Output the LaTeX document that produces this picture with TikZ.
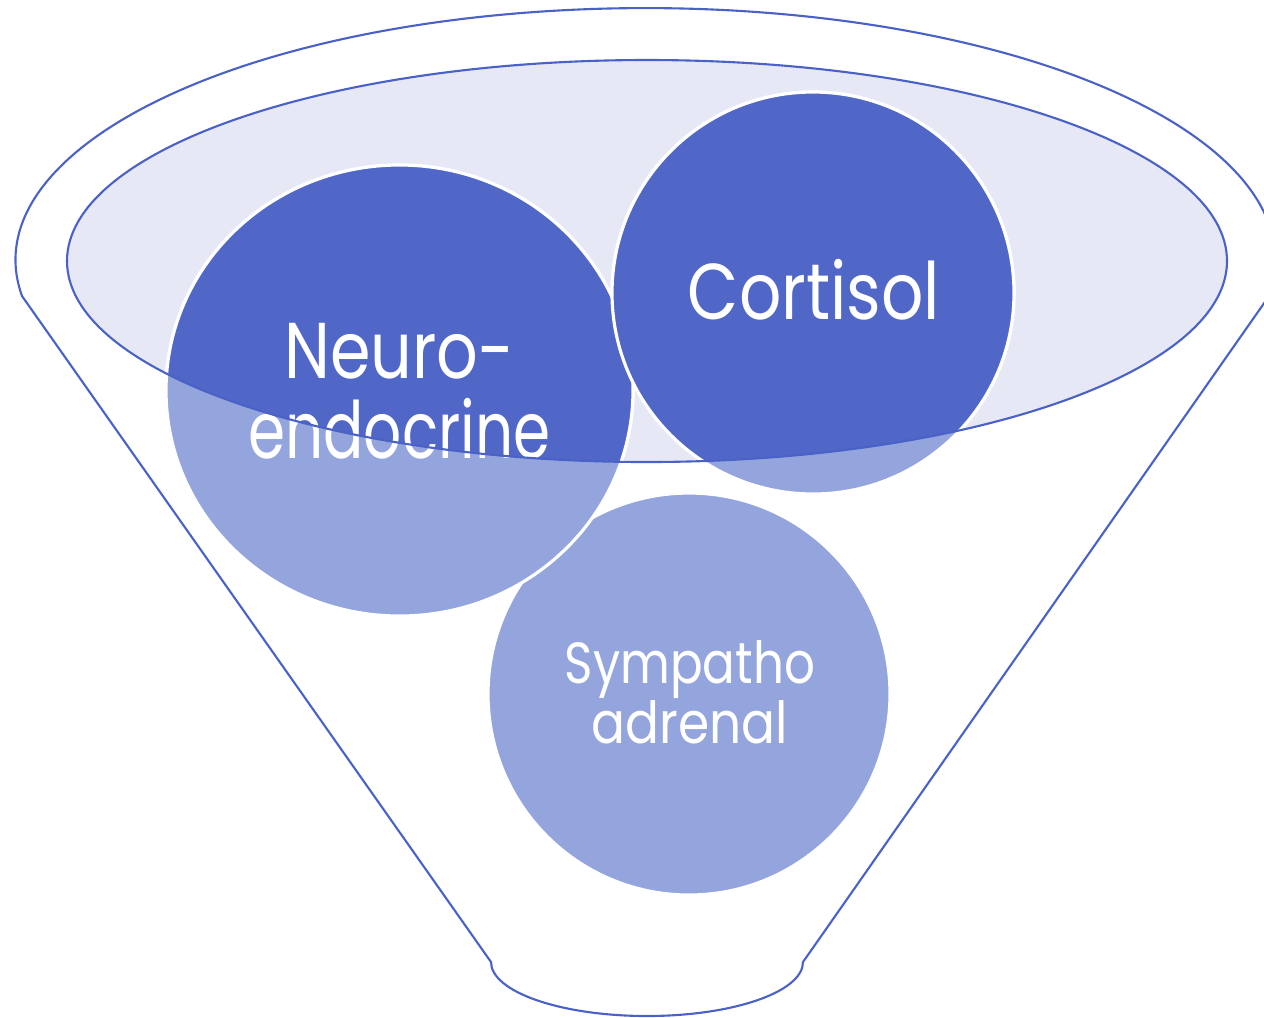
\documentclass[tikz,border=0pt]{standalone}
\usepackage{graphicx}
\usepackage{fontspec}
\setmainfont{Poppins}
\definecolor{funnelline}{HTML}{4A62C6}
\definecolor{lav}{HTML}{E6E8F5}
\definecolor{darkb}{HTML}{5067C8}
\definecolor{lightb}{HTML}{94A5DD}
\newcommand\fitw[2]{\resizebox{#1}{\height}{#2}}
\tikzset{
  outline/.style={draw=funnelline, line width=0.6pt},
  lightcirc/.style={fill=lightb, draw=white, line width=0.9pt},
  darkcirc/.style={fill=darkb, draw=white, line width=0.9pt},
  bigtxt/.style={text=white, align=center, font=\fontsize{22.5pt}{22.8pt}\selectfont},
  smalltxt/.style={text=white, align=center, font=\fontsize{16.5pt}{17pt}\selectfont},
}
\begin{document}
\begin{tikzpicture}[x=0.01cm,y=0.01cm]
\useasboundingbox (0,0) rectangle (1264,-1017);
\clip (0,0) rectangle (1264,-1017);
% outer funnel
\draw[outline, fill=white] (22,-296) arc[start angle=188.2, end angle=-8.2, x radius=630, y radius=252]
  -- (803,-962) arc[start angle=0, end angle=-180, x radius=156, y radius=54] -- cycle;
% inner ellipse fill
\fill[lav] (647,-261) ellipse [x radius=580, y radius=201];
% circles (light)
\draw[lightcirc] (689,-694) circle [radius=201];
\draw[lightcirc] (399.5,-390.5) ellipse [x radius=233.5, y radius=225.5];
\draw[lightcirc] (813,-293) circle [radius=201];
% dark parts inside the ellipse
\begin{scope}
  \clip (647,-261) ellipse [x radius=580, y radius=201];
  \draw[darkcirc] (399.5,-390.5) ellipse [x radius=233.5, y radius=225.5];
  \draw[darkcirc] (813,-293) circle [radius=201];
\end{scope}
% labels
\node[bigtxt] (neuro) at (399.5,-391) {\fitw{2.30cm}{Neuro-}\\\fitw{3.02cm}{endocrine}};
\node[bigtxt] (cort) at (814,-290) {\fitw{2.52cm}{Cortisol}};
\node[smalltxt] (symp) at (690,-692) {\fitw{2.50cm}{Sympatho}\\\fitw{1.96cm}{adrenal}};
% inner ellipse outline
\draw[outline] (647,-261) ellipse [x radius=580, y radius=201];
\end{tikzpicture}
\end{document}
